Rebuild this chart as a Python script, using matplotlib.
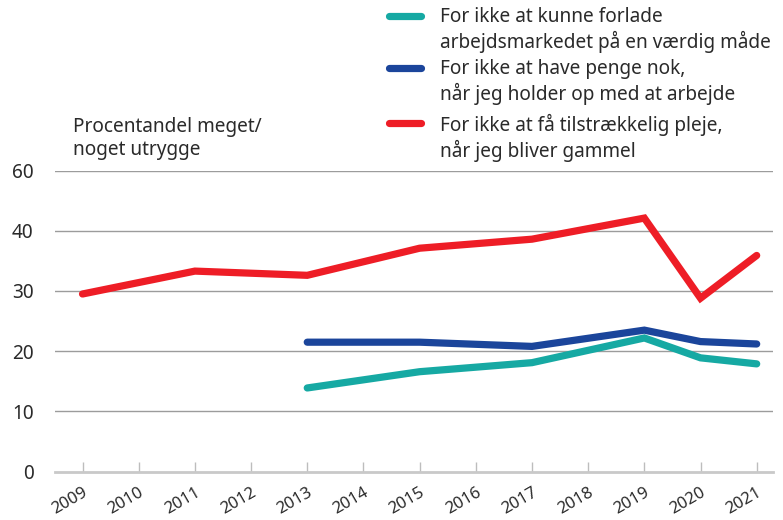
import matplotlib
matplotlib.use("Agg")
import matplotlib.pyplot as plt
from matplotlib.lines import Line2D

plt.rcParams['font.family'] = ['Noto Sans', 'DejaVu Sans']

years = list(range(2009, 2022))
x_labels = [str(y) for y in years]

years_red = [2009, 2011, 2013, 2015, 2017, 2019, 2020, 2021]
red = [29.5, 33.3, 32.6, 37.1, 38.6, 42.1, 28.8, 35.9]

years_blue = [2013, 2015, 2017, 2019, 2020, 2021]
blue = [21.5, 21.5, 20.8, 23.5, 21.6, 21.2]

years_teal = [2013, 2015, 2017, 2019, 2020, 2021]
teal = [13.9, 16.6, 18.1, 22.2, 18.9, 17.9]

y_ticks = [0, 10, 20, 30, 40, 50]
y_tick_labels = ["0", "10", "20", "30", "40", "60"]

labels = [
    "For ikke at kunne forlade\narbejdsmarkedet på en værdig måde",
    "For ikke at have penge nok,\nnår jeg holder op med at arbejde",
    "For ikke at få tilstrækkelig pleje,\nnår jeg bliver gammel",
]
colors = ["#16a9a3", "#1b459b", "#ee1d26"]
text_color = "#2a2a2a"
fs = 13.7

W, H = 783, 520
fig = plt.figure(figsize=(W / 100, H / 100), dpi=100)
ax = fig.add_axes([55 / W, (H - 471.7) / H, (772.7 - 55) / W, (471.7 - 170.5) / H])

lw = 5.2
ax.plot(years_teal, teal, color=colors[0], lw=lw, solid_capstyle='round', solid_joinstyle='miter', zorder=3)
ax.plot(years_blue, blue, color=colors[1], lw=lw, solid_capstyle='round', solid_joinstyle='miter', zorder=4)
ax.plot(years_red, red, color=colors[2], lw=lw, solid_capstyle='round', solid_joinstyle='miter', zorder=5)

ax.set_xlim(2009 - 0.49, 2021 + 0.285)
ax.set_ylim(0, 50)

ax.set_yticks(y_ticks)
ax.set_yticklabels(y_tick_labels, fontsize=fs, color=text_color)
ax.tick_params(axis='y', length=0, pad=15.5)

ax.set_xticks(years)
ax.set_xticklabels(x_labels, fontsize=12, color=text_color, rotation=30,
                   ha='right', rotation_mode='anchor')
ax.tick_params(axis='x', direction='in', length=7, width=1, color='#bdbdbd', pad=9)

for v in y_ticks[1:]:
    ax.axhline(v, color='#9c9c9c', lw=1.0, zorder=1)

for s in ['top', 'right', 'left']:
    ax.spines[s].set_visible(False)
ax.spines['bottom'].set_color('#c9c9c9')
ax.spines['bottom'].set_linewidth(2)
ax.spines['bottom'].set_zorder(2)

fig.text(73 / W, 1 - 117 / H, "Procentandel meget/\nnoget utrygge", fontsize=fs,
         color=text_color, ha='left', va='top', linespacing=1.22)

# legend
key_y = [16, 68, 123]
for c, lab, ky in zip(colors, labels, key_y):
    fig.add_artist(Line2D([389 / W, 421 / W], [1 - ky / H, 1 - ky / H], color=c, lw=lw,
                          solid_capstyle='round', transform=fig.transFigure))
    fig.text(440 / W, 1 - (ky - 9) / H, lab, fontsize=fs, color=text_color,
             ha='left', va='top', linespacing=1.22)

fig.savefig("out.png", dpi=100)
